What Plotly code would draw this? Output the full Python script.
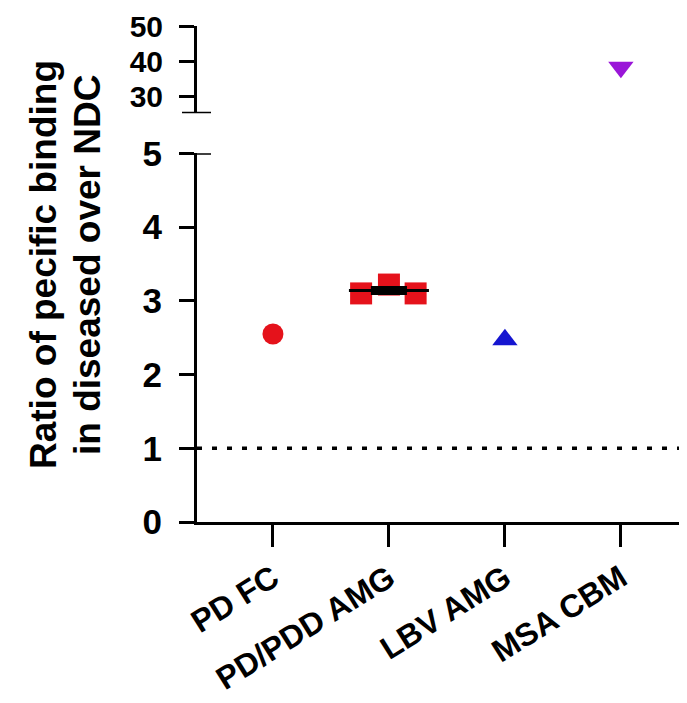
import numpy as np
import plotly.graph_objects as go

categories = ["PD FC", "PD/PDD AMG", "LBV AMG", "MSA CBM"]
pd_fc = [2.55]
pd_pdd_amg = [3.10, 3.22, 3.10]
lbv_amg = [2.47]
msa_cbm = [38.3]
lower_ticks = [0, 1, 2, 3, 4, 5]
upper_ticks = [30, 40, 50]
reference_line = 1
title_lines = ["Ratio of pecific binding", "in diseased over NDC"]

FONT = "Arial, Liberation Sans, sans-serif"
RED = "#E5121B"
BLUE = "#1515D0"
PURPLE = "#9A16D8"

jitter = [-0.24, 0.0, 0.23]

fig = go.Figure()

# reference dotted line
fig.add_trace(go.Scatter(x=[-0.655, 3.57], y=[reference_line, reference_line], mode="lines",
                         line=dict(color="black", width=3.5, dash="5px,10px"),
                         hoverinfo="skip", showlegend=False, xaxis="x", yaxis="y"))

fig.add_trace(go.Scatter(x=[0] * len(pd_fc), y=pd_fc, mode="markers",
                         marker=dict(symbol="circle", size=21, color=RED),
                         showlegend=False))
fig.add_trace(go.Scatter(x=[1 + j for j in jitter], y=pd_pdd_amg, mode="markers",
                         marker=dict(symbol="square", size=22, color=RED),
                         showlegend=False))
fig.add_trace(go.Scatter(x=[2] * len(lbv_amg), y=lbv_amg, mode="markers",
                         marker=dict(symbol="triangle-up", size=22, color=BLUE),
                         showlegend=False))
fig.add_trace(go.Scatter(x=[3] * len(msa_cbm), y=msa_cbm, mode="markers",
                         marker=dict(symbol="triangle-down", size=22, color=PURPLE),
                         showlegend=False, yaxis="y2"))

# mean +- SEM for PD/PDD AMG
vals = np.array(pd_pdd_amg)
mean = vals.mean()
sem = vals.std(ddof=1) / np.sqrt(len(vals))
fig.add_trace(go.Scatter(x=[1 - 0.345, 1 + 0.345], y=[mean, mean], mode="lines",
                         line=dict(color="black", width=3), showlegend=False))
fig.add_trace(go.Scatter(x=[1], y=[mean], mode="markers",
                         marker=dict(size=1, color="rgba(0,0,0,0)"),
                         error_y=dict(type="data", array=[sem], visible=True,
                                      color="black", thickness=3, width=18),
                         showlegend=False))

W, H = 679, 695
ml, mr, mt, mb = 189, 0, 18, 181
pw = W - ml - mr
ph = H - mt - mb
bottom_px = H - mb
lower_top = (bottom_px - 145.3) / ph
upper_bot = (bottom_px - 105.3) / ph

axis_common = dict(showgrid=False, zeroline=False, showline=True, linecolor="black",
                   linewidth=3, ticks="outside", tickwidth=3, tickcolor="black",
                   automargin=False, ticklabeloverflow="allow")
ytickfont = dict(family=FONT, size=35, color="black", weight="bold")
ytickfont2 = dict(family=FONT, size=30, color="black", weight="bold")
xtickfont = dict(family=FONT, size=32, color="black", weight="bold")
titlefont = dict(family=FONT, size=37, color="black", weight="bold")

title_x_px = [35, 79]
title_y_px = [257, 257]
annotations = [dict(text=t, xref="paper", yref="paper", x=(xp - ml) / pw, y=(bottom_px - yp) / ph,
                    xanchor="center", yanchor="middle", textangle=-90, showarrow=False,
                    font=titlefont)
               for t, xp, yp in zip(title_lines, title_x_px, title_y_px)]

fig.update_layout(
    width=W, height=H,
    margin=dict(l=ml, r=mr, t=mt, b=mb, autoexpand=False),
    plot_bgcolor="white", paper_bgcolor="white",
    font=dict(family=FONT, color="black"),
    xaxis=dict(range=[-0.655, 3.57], tickmode="array", tickvals=list(range(len(categories))),
               ticktext=categories, tickangle=-32, ticklen=22, tickfont=xtickfont,
               **axis_common),
    yaxis=dict(range=[0, 5], domain=[0, lower_top], tickmode="array", tickvals=lower_ticks,
               ticklen=15, anchor="x", tickfont=ytickfont, ticklabelstandoff=10,
               **axis_common),
    yaxis2=dict(range=[25.2, 50.1], domain=[upper_bot, 1], tickmode="array", tickvals=upper_ticks,
                ticklen=15, anchor="x", tickfont=ytickfont2, ticklabelstandoff=10,
                **axis_common),
    annotations=annotations,
    shapes=[
        dict(type="line", xref="paper", yref="y", x0=0, x1=14 / pw, y0=5, y1=5,
             line=dict(color="black", width=3)),
        dict(type="line", xref="paper", yref="y2", x0=-15 / pw, x1=14 / pw, y0=25.2, y1=25.2,
             line=dict(color="black", width=3)),
    ],
)

fig.write_html("out.html")
